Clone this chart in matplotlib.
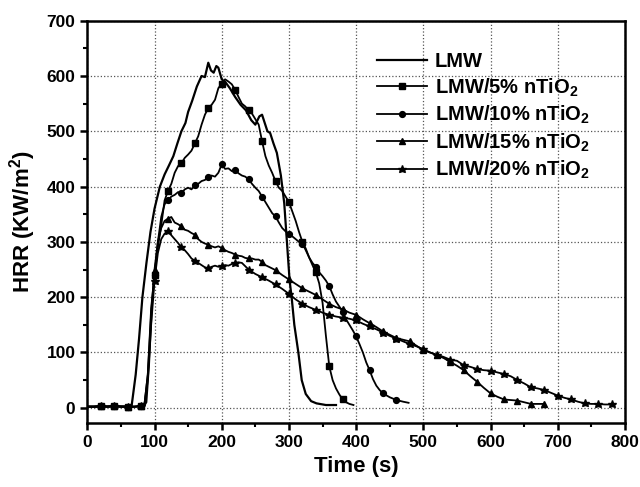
import numpy as np
import matplotlib
matplotlib.use("Agg")
import matplotlib.pyplot as plt

plt.rcParams['font.family'] = ['Liberation Sans', 'DejaVu Sans']
plt.rcParams['font.weight'] = 'bold'
plt.rcParams['mathtext.fontset'] = 'custom'
plt.rcParams['mathtext.rm'] = 'Liberation Sans:bold'
plt.rcParams['mathtext.it'] = 'Liberation Sans:bold'
plt.rcParams['mathtext.bf'] = 'Liberation Sans:bold'

# --- data (time in s, HRR in kW/m2) ---
labels = ['LMW', 'LMW/5% nTiO$_2$', 'LMW/10% nTiO$_2$',
          'LMW/15% nTiO$_2$', 'LMW/20% nTiO$_2$']
markers = [None, 's', 'o', '^', '*']
msizes = [0, 3.8, 4.2, 4.6, 6.2]

t_lmw = [0, 20, 40, 60, 66, 72, 77, 82, 88, 94, 100, 108, 115, 121, 128, 134,
         140, 146, 150, 156, 163, 170, 175, 180, 184, 188, 192, 195, 200, 206,
         212, 220, 228, 236, 244, 250, 256, 260, 264, 268, 272, 277, 282, 288,
         293, 297, 301, 304, 308, 314, 319, 325, 333, 341, 355, 370]
y_lmw = [2, 2, 3, 2, 4, 60, 125, 200, 262, 318, 360, 400, 422, 437, 455, 478,
         500, 515, 535, 555, 581, 600, 598, 624, 610, 606, 618, 615, 594, 588,
         578, 562, 548, 538, 520, 512, 527, 530, 515, 500, 497, 478, 461, 420,
         370, 300, 230, 200, 150, 100, 50, 25, 12, 8, 5, 5]

t_5 = [0, 10, 20, 30, 40, 50, 60, 70, 80, 85, 90, 95, 100, 105, 110, 115, 120,
       125, 130, 135, 140, 145, 150, 155, 160, 165, 170, 175, 180, 185, 190,
       195, 200, 205, 210, 215, 220, 225, 230, 235, 240, 245, 250, 255, 260,
       265, 270, 275, 280, 285, 290, 295, 300, 305, 310, 315, 320, 325, 330,
       335, 340, 345, 350, 355, 360, 365, 370, 375, 380, 385, 390, 396]
y_5 = [2, 2, 3, 2, 3, 2, 2, 2, 3, 6, 60, 180, 240, 290, 330, 375, 392, 405,
       425, 437, 442, 452, 458, 465, 478, 491, 512, 530, 542, 548, 557, 578,
       586, 594, 590, 585, 575, 562, 550, 545, 538, 532, 522, 512, 482, 455,
       438, 425, 410, 398, 392, 382, 372, 355, 338, 318, 300, 288, 272, 258,
       245, 225, 190, 130, 75, 50, 35, 24, 15, 10, 7, 5]

t_10 = [0, 10, 20, 30, 40, 50, 60, 70, 80, 85, 88, 92, 96, 100, 105, 110, 115,
        120, 125, 130, 135, 140, 145, 150, 155, 160, 165, 170, 175, 180, 185,
        190, 195, 200, 205, 210, 215, 220, 225, 230, 235, 240, 245, 250, 255,
        260, 265, 270, 275, 280, 285, 290, 295, 300, 305, 310, 315, 320, 325,
        330, 335, 340, 345, 350, 355, 360, 365, 370, 375, 380, 385, 390, 395,
        400, 405, 410, 415, 420, 425, 430, 435, 440, 450, 460, 470, 478]
y_10 = [2, 2, 3, 2, 3, 2, 2, 2, 3, 4, 10, 80, 180, 240, 300, 345, 368, 375,
        382, 385, 390, 388, 395, 398, 395, 402, 405, 410, 412, 418, 420, 418,
        425, 440, 432, 433, 428, 430, 424, 420, 418, 413, 405, 398, 392, 382,
        372, 362, 352, 346, 335, 325, 319, 314, 310, 305, 300, 297, 285, 272,
        262, 255, 245, 238, 230, 220, 205, 192, 183, 174, 160, 150, 140, 129,
        115, 100, 82, 68, 52, 40, 32, 26, 19, 14, 11, 9]

t_15 = [0, 10, 20, 30, 40, 50, 60, 70, 80, 85, 90, 95, 100, 105, 110, 115, 120,
        125, 130, 135, 140, 145, 150, 155, 160, 165, 170, 175, 180, 185, 190,
        195, 200, 205, 210, 215, 220, 225, 230, 235, 240, 245, 250, 255, 260,
        265, 270, 275, 280, 290, 300, 310, 320, 330, 340, 350, 360, 370, 380,
        390, 400, 410, 420, 430, 440, 450, 460, 470, 480, 490, 500, 510, 520,
        530, 540, 550, 560, 570, 580, 590, 600, 610, 620, 630, 640, 650, 660,
        670, 680]
y_15 = [2, 2, 3, 2, 3, 2, 2, 2, 3, 5, 60, 170, 250, 300, 325, 338, 342, 345,
        335, 332, 328, 322, 320, 316, 313, 305, 300, 297, 295, 292, 290, 292,
        289, 285, 282, 280, 277, 275, 274, 271, 270, 270, 268, 268, 264, 258,
        255, 252, 249, 240, 232, 224, 216, 210, 204, 196, 188, 182, 178, 172,
        168, 160, 153, 146, 138, 132, 126, 123, 120, 112, 104, 100, 95, 90, 83,
        76, 68, 57, 47, 36, 26, 20, 15, 14, 13, 10, 7, 7, 7]

t_20 = [0, 10, 20, 30, 40, 50, 60, 70, 80, 85, 90, 95, 100, 105, 110, 115, 120,
        125, 130, 135, 140, 145, 150, 155, 160, 165, 170, 175, 180, 185, 190,
        195, 200, 205, 210, 215, 220, 225, 230, 235, 240, 245, 250, 260, 270,
        280, 290, 300, 310, 320, 330, 340, 350, 360, 370, 380, 390, 400, 410,
        420, 430, 440, 450, 460, 470, 480, 490, 500, 510, 520, 530, 540, 550,
        560, 570, 580, 590, 600, 610, 620, 630, 640, 650, 660, 670, 680, 690,
        700, 710, 720, 730, 740, 750, 760, 770, 780]
y_20 = [2, 2, 3, 2, 3, 2, 2, 2, 3, 4, 50, 150, 230, 280, 305, 315, 319, 312,
        305, 298, 290, 285, 278, 270, 266, 262, 258, 254, 252, 255, 257, 255,
        256, 258, 257, 260, 262, 263, 262, 256, 250, 246, 242, 236, 230, 223,
        215, 206, 196, 188, 182, 177, 172, 168, 165, 163, 161, 158, 152, 147,
        142, 136, 130, 125, 120, 115, 111, 106, 100, 96, 92, 87, 85, 77, 74,
        70, 68, 67, 64, 61, 57, 50, 44, 37, 35, 32, 27, 22, 18, 15, 11, 8, 7,
        7, 6, 6]

times = [t_lmw, t_5, t_10, t_15, t_20]
values = [y_lmw, y_5, y_10, y_15, y_20]

fig = plt.figure(figsize=(6.4, 4.87), dpi=100)
ax = fig.add_axes([0.1364, 0.132, 0.8402, 0.8255])

for t, y, lab, m, ms in zip(times, values, labels, markers, msizes):
    t = np.array(t)
    # Origin-style: a marker every 20 s
    every = [i for i, v in enumerate(t) if v % 20 == 0 and v > 0]
    if m is None:
        ax.plot(t, y, color='black', lw=1.6, label=lab)
    else:
        ax.plot(t, y, color='black', lw=1.3, marker=m, ms=ms,
                markevery=every, label=lab)

ax.set_xlim(0, 800)
ax.set_ylim(-27, 700)
ax.set_xticks(np.arange(0, 801, 100))
ax.set_yticks(np.arange(0, 701, 100))
ax.set_xticks(np.arange(50, 800, 100), minor=True)
ax.set_yticks(np.arange(50, 700, 100), minor=True)
ax.tick_params(which='major', direction='out', length=5, width=1.8,
               labelsize=12.5, top=False, right=False)
ax.tick_params(which='minor', direction='out', length=3, width=1.5,
               top=False, right=False)
for lbl in ax.get_xticklabels() + ax.get_yticklabels():
    lbl.set_fontweight('bold')
for sp in ax.spines.values():
    sp.set_linewidth(1.8)

ax.grid(True, which='major', linestyle=':', color='#555555', lw=0.9)

ax.set_xlabel('Time (s)', fontsize=16, fontweight='bold', labelpad=5)
ax.set_ylabel('HRR (KW/m$^2$)', fontsize=16, fontweight='bold', labelpad=6)

ax.legend(loc='upper left', bbox_to_anchor=(0.539, 0.922), frameon=False,
          fontsize=14.5, handlelength=2.5, handletextpad=0.35,
          labelspacing=0.26, borderpad=0, borderaxespad=0)

fig.savefig('out.png', dpi=100)
